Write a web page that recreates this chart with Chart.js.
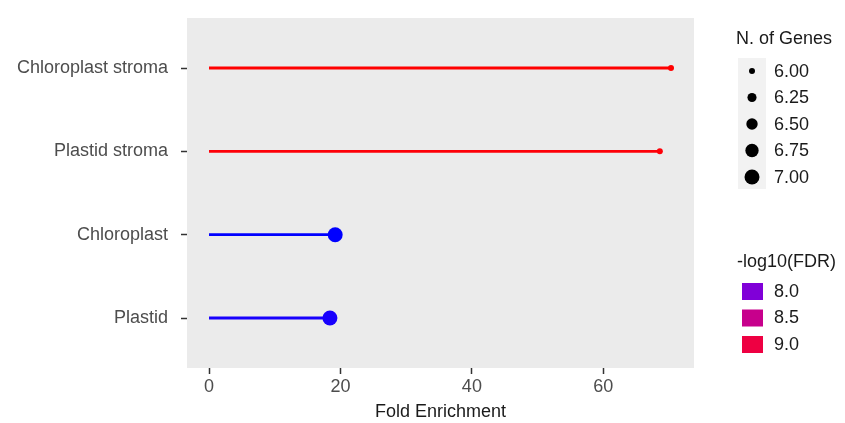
<!DOCTYPE html>
<html>
<head>
<meta charset="utf-8">
<script src="https://cdn.jsdelivr.net/npm/chart.js@4"></script>
<style>
  html, body { margin: 0; padding: 0; background: #fff; }
  #wrap { width: 845px; height: 423px; }
</style>
</head>
<body>
<div id="wrap"><canvas id="chart"></canvas></div>
<script>
// GO terms, top to bottom
const categories = ['Chloroplast stroma', 'Plastid stroma', 'Chloroplast', 'Plastid'];
const foldEnrichment = [70.3, 68.6, 19.2, 18.4];
const nGenes = [6, 6, 7, 7];
const log10FDR = [9.3, 9.28, 7.75, 7.76];
const xTicks = [0, 20, 40, 60];
const sizeLegend = [6.00, 6.25, 6.50, 6.75, 7.00];
const fdrLegend = [8.0, 8.5, 9.0];

const FONT = '"Liberation Sans", Arial, sans-serif';
Chart.defaults.font.family = FONT;

// size scale: area grows with gene count
const radiusFor = n => Math.sqrt(9 + 47 * (n - 6));

// colour scale blue -> red over -log10(FDR), interpolated in Lab like ggplot
const fdrLo = 7.75, fdrHi = 9.3;
const toLin = c => { c /= 255; return c <= 0.04045 ? c / 12.92 : Math.pow((c + 0.055) / 1.055, 2.4); };
const fromLin = c => 255 * (c <= 0.0031308 ? 12.92 * c : 1.055 * Math.pow(c, 1 / 2.4) - 0.055);
const WP = [0.95047, 1, 1.08883];
const rgbToLab = ([r, g, b]) => {
    const R = toLin(r), G = toLin(g), B = toLin(b);
    const xyz = [
        0.4124 * R + 0.3576 * G + 0.1805 * B,
        0.2126 * R + 0.7152 * G + 0.0722 * B,
        0.0193 * R + 0.1192 * G + 0.9505 * B
    ].map((v, i) => v / WP[i]);
    const f = t => t > 0.008856 ? Math.cbrt(t) : 7.787 * t + 16 / 116;
    const [fx, fy, fz] = xyz.map(f);
    return [116 * fy - 16, 500 * (fx - fy), 200 * (fy - fz)];
};
const labToRgb = ([L, a, b]) => {
    const fy = (L + 16) / 116, fx = fy + a / 500, fz = fy - b / 200;
    const fi = t => t > 0.206893 ? t * t * t : (t - 16 / 116) / 7.787;
    const [X, Y, Z] = [fi(fx) * WP[0], fi(fy) * WP[1], fi(fz) * WP[2]];
    const R = 3.2406 * X - 1.5372 * Y - 0.4986 * Z;
    const G = -0.9689 * X + 1.8758 * Y + 0.0415 * Z;
    const B = 0.0557 * X - 0.2040 * Y + 1.0570 * Z;
    return [R, G, B].map(c => Math.round(Math.max(0, Math.min(255, fromLin(c)))));
};
const labLo = rgbToLab([0, 0, 255]), labHi = rgbToLab([255, 0, 0]);
const colorFor = v => {
    let t = (v - fdrLo) / (fdrHi - fdrLo);
    t = Math.max(0, Math.min(1, t));
    const lab = labLo.map((c, i) => c + (labHi[i] - c) * t);
    const [r, g, b] = labToRgb(lab);
    return `rgb(${r},${g},${b})`;
};

const datasets = categories.map((cat, i) => ({
    label: cat,
    data: [{ x: 0, y: i + 1 }, { x: foldEnrichment[i], y: i + 1 }],
    showLine: true,
    borderColor: colorFor(log10FDR[i]),
    backgroundColor: colorFor(log10FDR[i]),
    borderWidth: 2.8,
    pointRadius: [0, radiusFor(nGenes[i])],
    pointHoverRadius: [0, radiusFor(nGenes[i])],
    pointBorderWidth: 0
}));

const panelBg = {
    id: 'panelBg',
    beforeDraw(chart) {
        const { ctx, chartArea: a } = chart;
        ctx.save();
        ctx.fillStyle = '#EBEBEB';
        ctx.fillRect(a.left, a.top, a.right - a.left, a.bottom - a.top);
        ctx.restore();
    }
};

const legends = {
    id: 'legends',
    afterDraw(chart) {
        const ctx = chart.ctx;
        ctx.save();
        ctx.textBaseline = 'middle';
        ctx.textAlign = 'left';
        ctx.font = `18px ${FONT}`;

        // N. of Genes
        ctx.fillStyle = '#1A1A1A';
        ctx.fillText('N. of Genes', 736, 39);
        ctx.fillStyle = '#F2F2F2';
        ctx.fillRect(738, 58, 28, 131);
        sizeLegend.forEach((n, i) => {
            const y = 71 + i * 26.5;
            ctx.fillStyle = '#000';
            ctx.beginPath();
            ctx.arc(752, y, radiusFor(n), 0, Math.PI * 2);
            ctx.fill();
            ctx.fillStyle = '#1A1A1A';
            ctx.fillText(n.toFixed(2), 774, y + 1);
        });

        // -log10(FDR)
        ctx.fillStyle = '#1A1A1A';
        ctx.fillText('-log10(FDR)', 737, 262);
        fdrLegend.forEach((v, i) => {
            const y = 291 + i * 26.5;
            ctx.fillStyle = colorFor(v);
            ctx.fillRect(742, y - 8, 21, 17);
            ctx.fillStyle = '#1A1A1A';
            ctx.fillText(v.toFixed(1), 774, y + 1);
        });
        ctx.restore();
    }
};

new Chart(document.getElementById('chart'), {
    type: 'scatter',
    data: { datasets },
    options: {
        responsive: true,
        maintainAspectRatio: false,
        animation: false,
        events: [],
        layout: { padding: { top: 18, right: 151, bottom: 0, left: 0 } },
        plugins: {
            legend: { display: false },
            tooltip: { enabled: false }
        },
        scales: {
            x: {
                type: 'linear',
                min: -3.35,
                max: 73.8,
                afterBuildTicks: scale => { scale.ticks = xTicks.map(v => ({ value: v })); },
                afterFit: scale => {
                    scale.height = 55;
                    scale.paddingLeft = 0;
                    scale.paddingRight = 0;
                },
                border: { display: false },
                grid: {
                    drawOnChartArea: false,
                    drawTicks: true,
                    tickLength: 6,
                    tickWidth: 1.5,
                    tickColor: '#333333'
                },
                ticks: { color: '#4D4D4D', font: { size: 18 }, padding: 2, maxRotation: 0 },
                title: {
                    display: true,
                    text: 'Fold Enrichment',
                    color: '#1A1A1A',
                    font: { size: 18 },
                    padding: { top: 0, bottom: 0 }
                }
            },
            y: {
                type: 'linear',
                reverse: true,
                min: 0.4,
                max: 4.6,
                afterBuildTicks: scale => { scale.ticks = categories.map((c, i) => ({ value: i + 1 })); },
                afterFit: scale => {
                    scale.width = 187;
                    scale.paddingTop = 0;
                    scale.paddingBottom = 0;
                },
                border: { display: false },
                grid: {
                    drawOnChartArea: false,
                    drawTicks: true,
                    tickLength: 6,
                    tickWidth: 1.5,
                    tickColor: '#333333'
                },
                ticks: {
                    color: '#4D4D4D',
                    font: { size: 18 },
                    padding: 13,
                    callback: v => categories[v - 1]
                }
            }
        }
    },
    plugins: [panelBg, legends]
});
</script>
</body>
</html>
